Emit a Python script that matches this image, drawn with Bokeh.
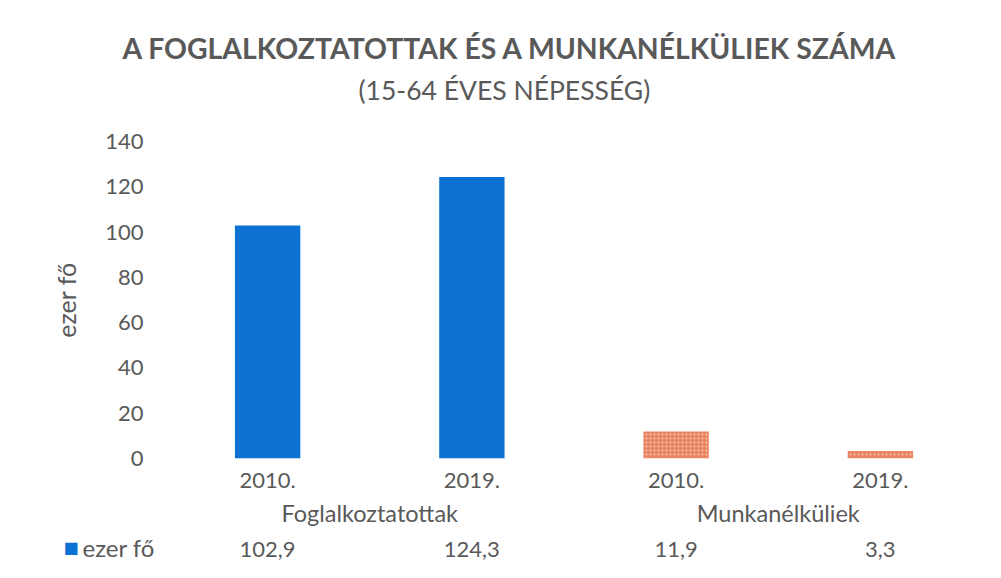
from bokeh.plotting import figure
from bokeh.models import (FactorRange, Range1d, FixedTicker, Title, CategoricalAxis,
                          ColumnDataSource, Label)
from bokeh.embed import file_html
from bokeh.resources import INLINE

# ---- data ----
groups = ["Foglalkoztatottak", "Foglalkoztatottak", "Munkanélküliek", "Munkanélküliek"]
years = ["2010.", "2019.", "2010.", "2019."]
values = [102.9, 124.3, 11.9, 3.3]
series_name = "ezer fő"
y_ticks = [0, 20, 40, 60, 80, 100, 120, 140]
title_text = "A FOGLALKOZTATOTTAK ÉS A MUNKANÉLKÜLIEK SZÁMA"
subtitle_text = "(15-64 ÉVES NÉPESSÉG)"

FONT = "Lato"
GRAY = "#595959"
BLUE = "#0B72D3"
ORANGE = "#E9825E"

factors = list(zip(groups, years))
group_names = list(dict.fromkeys(groups))
value_labels = [f"{v:.1f}".replace(".", ",") for v in values]

src_emp = ColumnDataSource(dict(x=factors[:2], top=values[:2]))
src_unemp = ColumnDataSource(dict(x=factors[2:], top=values[2:]))

x_range = FactorRange(*factors, range_padding=0, group_padding=0, factor_padding=0)

p = figure(width=985, height=562, x_range=x_range, y_range=Range1d(0, 140),
           output_backend="svg", toolbar_location=None,
           min_border_left=165, min_border_right=3, min_border_top=141,
           min_border_bottom=104)
p.extra_x_ranges = {
    "groups": FactorRange(*group_names, range_padding=0),
    "vals": FactorRange(*value_labels, range_padding=0),
}
p.outline_line_color = None
p.background_fill_color = "white"
p.border_fill_color = "white"
p.xgrid.grid_line_color = None
p.ygrid.grid_line_color = None

p.vbar(x="x", top="top", width=0.32, source=src_emp,
       fill_color=BLUE, line_color=None)
p.vbar(x="x", top="top", width=0.32, source=src_unemp,
       fill_color=ORANGE, line_color=None,
       hatch_pattern="dot", hatch_color="white", hatch_alpha=0.6,
       hatch_scale=4, hatch_weight=1)

# y axis
ya = p.yaxis[0]
ya.ticker = FixedTicker(ticks=y_ticks)
ya.axis_line_color = None
ya.major_tick_line_color = None
ya.minor_tick_line_color = None
ya.major_label_standoff = 16
ya.major_label_text_font = FONT
ya.major_label_text_font_size = "22px"
ya.major_label_text_color = GRAY
ya.axis_label = series_name
ya.axis_label_text_font = FONT
ya.axis_label_text_font_size = "25px"
ya.axis_label_text_font_style = "normal"
ya.axis_label_text_color = GRAY
ya.axis_label_standoff = 21


def style_x(ax, standoff):
    ax.axis_line_color = None
    ax.major_tick_line_color = None
    ax.minor_tick_line_color = None
    ax.major_label_standoff = standoff
    ax.major_label_text_font = FONT
    ax.major_label_text_color = GRAY


# years (nested axis; group level shown by its own axis below)
xa = p.xaxis[0]
style_x(xa, 8)
xa.major_label_text_font_size = "22px"
xa.group_text_font_size = "1px"
xa.group_text_color = None
xa.separator_line_color = None

# group names
xg = CategoricalAxis(x_range_name="groups")
style_x(xg, 2)
xg.major_label_text_font_size = "23.5px"
p.add_layout(xg, "below")

# data table: values
xv = CategoricalAxis(x_range_name="vals")
style_x(xv, 6)
xv.major_label_text_font_size = "22px"
p.add_layout(xv, "below")

# data table row header: series name (row next to the frame) and legend key
name_lbl = Label(x=-83, y=-406, x_units="screen", y_units="screen", text=series_name,
                 text_align="left", text_baseline="middle", text_font=FONT,
                 text_font_size="24px", text_color=GRAY)
p.add_layout(name_lbl, "above")

key_lbl = Label(x=30, y=-89, x_units="screen", y_units="screen", text="■",
                text_align="left", text_baseline="middle",
                text_font="DejaVu Sans", text_font_size="16px", text_color=BLUE)
p.add_layout(key_lbl, "left")

# titles
sub = Title(text=subtitle_text, align="left", offset=193, text_font=FONT,
            text_font_size="26.5px", text_font_style="normal", text_color=GRAY,
            standoff=14)
ttl = Title(text=title_text, align="left", offset=-43, text_font=FONT,
            text_font_size="28.4px", text_font_style="bold", text_color=GRAY,
            standoff=0)
p.add_layout(sub, "above")
p.add_layout(ttl, "above")

open("out.html", "w").write(file_html(p, INLINE))
